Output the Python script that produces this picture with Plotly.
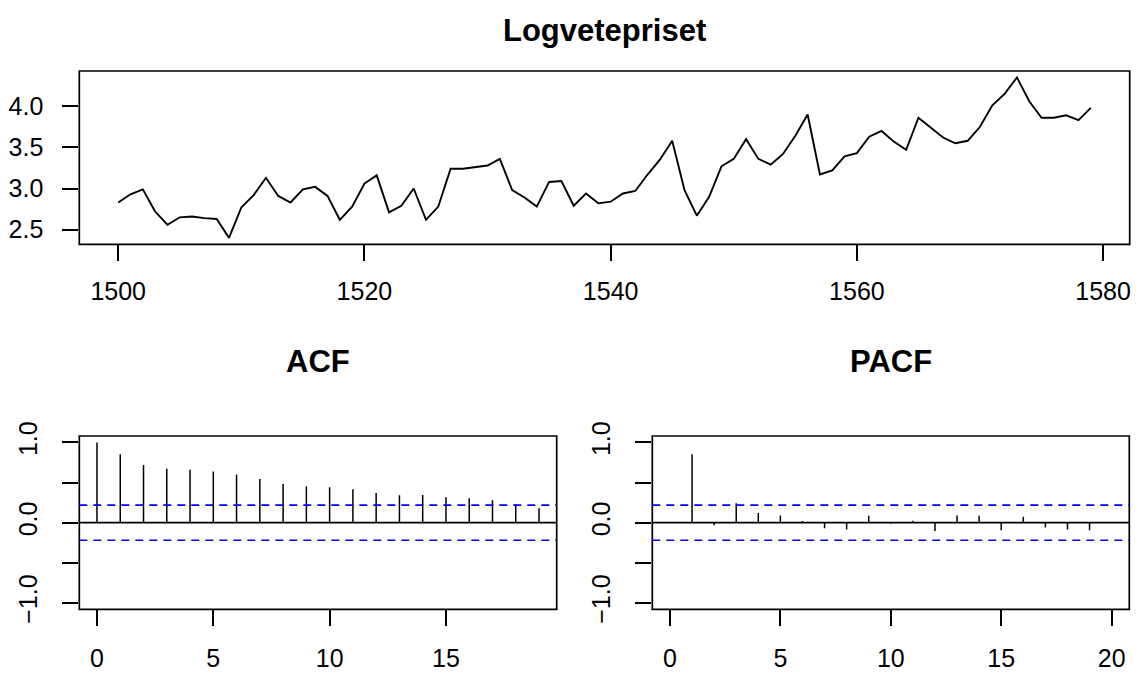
import numpy as np
import plotly.graph_objects as go

# ---------------- data ----------------
years = list(range(1500, 1580))
logprice = [2.83, 2.93, 2.99, 2.72, 2.56, 2.65, 2.66, 2.64, 2.63, 2.40,
            2.77, 2.92, 3.13, 2.91, 2.83, 2.99, 3.02, 2.91, 2.62, 2.78,
            3.06, 3.16, 2.71, 2.79, 3.00, 2.62, 2.78, 3.24, 3.24, 3.26,
            3.28, 3.36, 2.98, 2.89, 2.78, 3.08, 3.09, 2.79, 2.94, 2.82,
            2.84, 2.94, 2.97, 3.17, 3.35, 3.58, 2.98, 2.67, 2.90, 3.27,
            3.36, 3.60, 3.36, 3.29, 3.42, 3.64, 3.90, 3.17, 3.22, 3.39,
            3.43, 3.63, 3.70, 3.57, 3.47, 3.86, 3.74, 3.62, 3.55, 3.58,
            3.75, 4.01, 4.15, 4.35, 4.06, 3.86, 3.86, 3.89, 3.83, 3.98]

acf_lags = list(range(0, 20))
acf_vals = [1.000, 0.852, 0.720, 0.671, 0.658, 0.638, 0.600, 0.543, 0.481, 0.453,
            0.440, 0.417, 0.368, 0.340, 0.345, 0.316, 0.303, 0.278, 0.229, 0.180]

pacf_lags = list(range(1, 20))
pacf_vals = [0.852, -0.033, 0.243, 0.119, 0.090, 0.020, -0.070, -0.086, 0.086, -0.012,
             0.025, -0.103, 0.090, 0.086, -0.095, 0.074, -0.062, -0.086, -0.095]

n_obs = len(logprice)
conf = 1.96 / np.sqrt(n_obs)

top_xticks = [1500, 1520, 1540, 1560, 1580]
top_yticks = [2.5, 3.0, 3.5, 4.0]
cor_yticks = [-1.0, -0.5, 0.0, 0.5, 1.0]
cor_yticktext = ["\u22121.0", "", "0.0", "", "1.0"]
acf_xticks = [0, 5, 10, 15]
pacf_xticks = [0, 5, 10, 15, 20]

titles = ["Logvetepriset", "ACF", "PACF"]

# ---------------- layout helpers ----------------
W, H = 1140, 673
FONT = "Liberation Sans, Arial, Helvetica, sans-serif"
FS = 25
LW = 1.5


def px_x(p):
    return p / W


def px_y(p):
    return 1 - p / H


def pad_range(lo, hi):
    d = (hi - lo) * 0.04
    return [lo - d, hi + d]


def stems(lags, vals):
    xs, ys = [], []
    for l, v in zip(lags, vals):
        xs += [l, l, None]
        ys += [0, v, None]
    return xs, ys


fig = go.Figure()

fig.add_trace(go.Scatter(x=years, y=logprice, mode="lines",
                         line=dict(color="black", width=1.9),
                         xaxis="x", yaxis="y", showlegend=False))

ax, ay = stems(acf_lags, acf_vals)
fig.add_trace(go.Scatter(x=ax, y=ay, mode="lines",
                         line=dict(color="black", width=LW),
                         xaxis="x2", yaxis="y2", showlegend=False))

px_, py_ = stems(pacf_lags, pacf_vals)
fig.add_trace(go.Scatter(x=px_, y=py_, mode="lines",
                         line=dict(color="black", width=LW),
                         xaxis="x3", yaxis="y3", showlegend=False))

tick_common = dict(ticks="outside", ticklen=16, tickwidth=1.6, tickcolor="black",
                   showgrid=False, zeroline=False, showline=False, automargin=False,
                   tickfont=dict(family=FONT, size=FS, color="black"))

top_dom_x = [px_x(79.3), px_x(1129.7)]
top_dom_y = [px_y(244.3), px_y(71)]
bot_dom_y = [px_y(609.3), px_y(436)]
acf_dom_x = [px_x(79.3), px_x(556.7)]
pacf_dom_x = [px_x(652.3), px_x(1129.3)]

fig.update_layout(
    template="none",
    width=W, height=H,
    margin=dict(l=0, r=0, t=0, b=0, pad=0),
    paper_bgcolor="white", plot_bgcolor="white",
    font=dict(family=FONT, size=FS, color="black"),
    xaxis=dict(domain=top_dom_x, range=pad_range(min(years), max(years)),
               tickvals=top_xticks, anchor="y", ticklabelstandoff=9, **tick_common),
    yaxis=dict(domain=top_dom_y, range=pad_range(min(logprice), max(logprice)),
               tickvals=top_yticks, tickformat=".1f", anchor="x",
               ticklabelstandoff=14, **tick_common),
    xaxis2=dict(domain=acf_dom_x, range=pad_range(min(acf_lags), max(acf_lags)),
                tickvals=acf_xticks, anchor="y2", ticklabelstandoff=11, **tick_common),
    yaxis2=dict(domain=bot_dom_y, range=pad_range(-1, 1), tickvals=cor_yticks,
                ticktext=cor_yticktext, tickangle=-90, anchor="x2",
                ticklabelstandoff=15, **tick_common),
    xaxis3=dict(domain=pacf_dom_x, range=pad_range(0, 20),
                tickvals=pacf_xticks, anchor="y3", ticklabelstandoff=11, **tick_common),
    yaxis3=dict(domain=bot_dom_y, range=pad_range(-1, 1), tickvals=cor_yticks,
                ticktext=cor_yticktext, tickangle=-90, anchor="x3",
                ticklabelstandoff=15, **tick_common),
)

shapes = []
for xa, ya in [("x", "y"), ("x2", "y2"), ("x3", "y3")]:
    shapes.append(dict(type="rect", xref=f"{xa} domain", yref=f"{ya} domain",
                       x0=0, x1=1, y0=0, y1=1, line=dict(color="black", width=1.7),
                       fillcolor="rgba(0,0,0,0)", layer="above"))
for xa, ya in [("x2", "y2"), ("x3", "y3")]:
    shapes.append(dict(type="line", xref=f"{xa} domain", yref=ya, x0=0, x1=1, y0=0, y1=0,
                       line=dict(color="black", width=1.7)))
    for c in (conf, -conf):
        shapes.append(dict(type="line", xref=f"{xa} domain", yref=ya, x0=0, x1=1,
                           y0=c, y1=c, line=dict(color="#0000FF", width=1.7, dash="8px,6px")))
fig.update_layout(shapes=shapes)

ann_pos = [((79.3 + 1129.7) / 2, 50), ((79.3 + 556.7) / 2, 381), ((652.3 + 1129.3) / 2, 381)]
for t, (xp, yp) in zip(titles, ann_pos):
    fig.add_annotation(text=f"<b>{t}</b>", x=px_x(xp), y=px_y(yp), xref="paper", yref="paper",
                       xanchor="center", yanchor="bottom", showarrow=False,
                       font=dict(family=FONT, size=31, color="black"))

fig.write_html("out.html", config={"displayModeBar": False},
               post_script="document.body.style.margin='0px';document.body.style.overflow='hidden';")
